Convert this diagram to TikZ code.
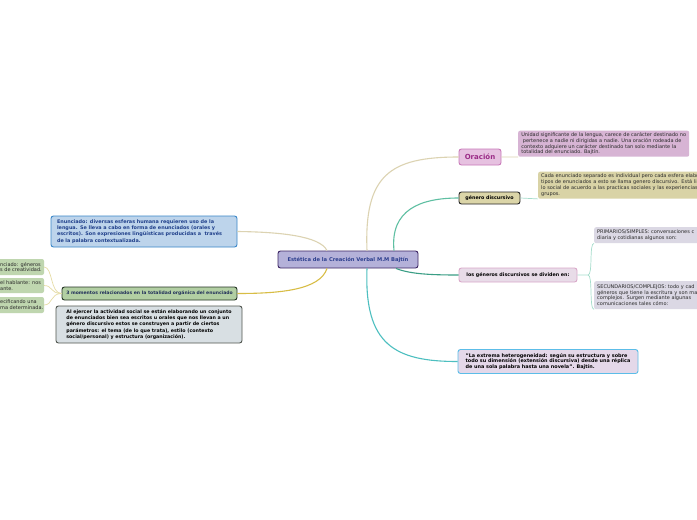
\documentclass[tikz,border=0pt]{standalone}
\usepackage{fontspec}
\setmainfont{DejaVu Sans}
\definecolor{cfill}{HTML}{B4B1D9}
\definecolor{cborder}{HTML}{3B2462}
\definecolor{ctext}{HTML}{2D3F8E}
\definecolor{ltfill}{HTML}{BDD4EB}
\definecolor{ltborder}{HTML}{3A87C8}
\definecolor{lttext}{HTML}{1F3F8A}
\definecolor{momfill}{HTML}{B2CFA3}
\definecolor{momborder}{HTML}{253525}
\definecolor{momtext}{HTML}{22305A}
\definecolor{ajfill}{HTML}{D8DFE3}
\definecolor{ajborder}{HTML}{50564F}
\definecolor{leaffill}{HTML}{BFD6AF}
\definecolor{orfill}{HTML}{E6C1E0}
\definecolor{orborder}{HTML}{C979B9}
\definecolor{ortext}{HTML}{9A2B86}
\definecolor{purfill}{HTML}{D7B4D4}
\definecolor{genfill}{HTML}{DBD5A8}
\definecolor{khfill}{HTML}{D9D3A6}
\definecolor{lgfill}{HTML}{E8DCE8}
\definecolor{lgborder}{HTML}{D9A8C9}
\definecolor{psfill}{HTML}{DBD8E4}
\definecolor{botfill}{HTML}{E4D8E9}
\definecolor{botborder}{HTML}{5CBDE8}
\definecolor{beige}{HTML}{DCD3B2}
\definecolor{yel}{HTML}{D8BD45}
\definecolor{teal}{HTML}{5EBFA2}
\definecolor{dteal}{HTML}{3A9E85}
\definecolor{cteal}{HTML}{4DBFC0}
\definecolor{lyel}{HTML}{E6DCA5}
\definecolor{lteal}{HTML}{A6DDCC}
\definecolor{txt}{HTML}{2A2A2A}
\tikzset{
  box/.style={rounded corners=2.5pt, line width=0.9pt, inner xsep=4pt, inner ysep=1pt,
    align=left, font=\fontsize{4.9}{6.2}\selectfont\bfseries},
  note/.style={rounded corners=2pt, inner xsep=3pt, inner ysep=1pt, align=left,
    text=txt, font=\fontsize{5}{5.8}\selectfont},
  conn/.style={line width=1.1pt},
  sub/.style={line width=0.7pt},
}
\begin{document}
\begin{tikzpicture}[x=1pt,y=-1pt]
\useasboundingbox (0,0) rectangle (697,520);
\fill[white] (0,0) rectangle (697,520);

% nodes
\node[box, draw=cborder, fill=cfill, text=ctext, align=center, minimum width=140pt, minimum height=17pt,
  font=\fontsize{5.2}{6}\selectfont\bfseries] (c) at (348,259.5) {Estética de la Creación Verbal M.M Bajtín};

\node[box, draw=ltborder, fill=ltfill, text=lttext, inner xsep=6pt, text width=174pt, minimum height=31pt]
  (lt) at (144,231.5) {Enunciado: diversas esferas humana requieren uso de la\\
  lengua. Se lleva a cabo en forma de enunciados (orales y\\
  escritos). Son expresiones lingüísticas producidas a\ \ través\\
  de la palabra contextualizada.};

\node[box, draw=momborder, fill=momfill, text=momtext, align=center, minimum width=175pt, minimum height=13pt,
  font=\fontsize{4.55}{6}\selectfont\bfseries] (mom) at (149.5,293.5)
  {3 momentos relacionados en la totalidad orgánica del enunciado};

\node[box, draw=ajborder, fill=ajfill, text=black, minimum width=186pt, minimum height=37pt,
  font=\fontsize{4.75}{6.2}\selectfont\bfseries] (aj) at (149,324.5)
  {Al ejercer la actividad social se están elaborando un conjunto\\
  de enunciados bien sea escritos u orales que nos llevan a un\\
  género discursivo estos se construyen a partir de ciertos\\
  parámetros: el tema (de lo que trata), estilo (contexto\\
  social/personal) y estructura (organización).};

% left leaves (cut by the page edge)
\fill[leaffill, rounded corners=2pt] (-10,259) rectangle (44,275);
\fill[leaffill, rounded corners=2pt] (-10,278) rectangle (44,293);
\fill[leaffill, rounded corners=2pt] (-10,297) rectangle (44,313);
\node[note, anchor=west, inner xsep=0pt] (l1) at (0,267) {nciado: géneros\\s de creatividad.};
\node[note, anchor=west, inner xsep=0pt] (l2) at (0,285.5) {el hablante: nos\\ante.};
\node[note, anchor=west, inner xsep=0pt] (l3) at (0,305) {ecificando una\\ma determinada.};
\coordinate (l1e) at (44,267);
\coordinate (l2e) at (44,285.5);
\coordinate (l3e) at (44,305);

% right side
\node[box, draw=orborder, fill=orfill, text=ortext, align=center, minimum width=42pt, minimum height=16pt,
  font=\fontsize{7}{8}\selectfont\bfseries] (or) at (480,157) {Oración};

\node[note, fill=purfill, anchor=north west, minimum width=171pt, minimum height=26pt] (pur) at (518,130.5)
  {Unidad significante de la lengua, carece de carácter destinado no\\
  \ pertenece a nadie ni dirigidas a nadie. Una oración rodeada de\\
  contexto adquiere un carácter destinado tan solo mediante la\\
  totalidad del enunciado. Bajtín.};

\node[box, draw=black!85, fill=genfill, text=black, align=center, minimum width=61pt, minimum height=12pt,
  font=\fontsize{4.8}{6}\selectfont\bfseries] (gen) at (489.5,198) {género discursivo};

\node[note, fill=khfill, anchor=north west, text width=200pt, minimum height=27pt] (kh) at (538,171.5)
  {Cada enunciado separado es individual pero cada esfera elabo\\
  tipos de enunciados a esto se llama genero discursivo. Está li\\
  lo social de acuerdo a las practicas sociales y las experiencias\\
  grupos.};

\node[box, draw=lgborder, fill=lgfill, text=black, align=center, minimum width=118pt, minimum height=14pt,
  font=\fontsize{4.8}{6}\selectfont\bfseries] (lg) at (518,275) {los géneros discursivos se dividen en:};

\node[note, fill=psfill, anchor=north west, text width=150pt, minimum height=16pt] (pri) at (594,227)
  {PRIMARIOS/SIMPLES: conversaciones c\\diaria y cotidianas algunos son:};

\node[note, fill=psfill, anchor=north west, text width=150pt, minimum height=28pt] (sec) at (594,281)
  {SECUNDARIOS/COMPLEJOS: todo y cad\\géneros que tiene la escritura y son ma\\
  complejos. Surgen mediante algunas\\comunicaciones tales cómo:};

\node[box, draw=botborder, fill=botfill, text=black, minimum width=180pt, minimum height=24pt,
  font=\fontsize{4.9}{5.7}\selectfont\bfseries] (bot) at (548,361.5)
  {"La extrema heterogeneidad: según su estructura y sobre\\
  todo su dimensión (extensión discursiva) desde una réplica\\
  de una sola palabra hasta una novela". Bajtín.};

% connectors
\draw[conn, beige] (c.north -| 327,0) .. controls (320,236) and (280,232) .. (lt.east);
\draw[conn, yel] (c.south -| 327,0) .. controls (320,290) and (280,293.5) .. (mom.east);
\draw[sub, lyel] (mom.west) .. controls (50,293.5) and (53,267) .. (l1e);
\draw[sub, lyel] (mom.west) .. controls (50,293.5) and (53,285.5) .. (l2e);
\draw[sub, lyel] (mom.west) .. controls (50,293.5) and (53,305) .. (l3e);

\draw[conn, beige] (c.north -| 367,0) .. controls (364,175) and (390,157) .. (or.west);
\draw[conn, teal] (c.north -| 394,0) .. controls (390,210) and (420,198) .. (gen.west);
\draw[conn, dteal] (c.south -| 396,0) .. controls (410,274) and (430,275) .. (lg.west);
\draw[conn, cteal] (c.south -| 367,0) .. controls (364,345) and (395,361.5) .. (bot.west);

\draw[sub, beige] (or.east) -- (pur.south west);
\draw[sub, lteal] (gen.east) -- (kh.south west);
\draw[sub, lteal] (lg.east) -- (588,275) .. controls (593,275) and (589,243) .. (pri.south west);
\draw[sub, lteal] (588,275) .. controls (593,275) and (589,309) .. (sec.south west);
\end{tikzpicture}
\end{document}
